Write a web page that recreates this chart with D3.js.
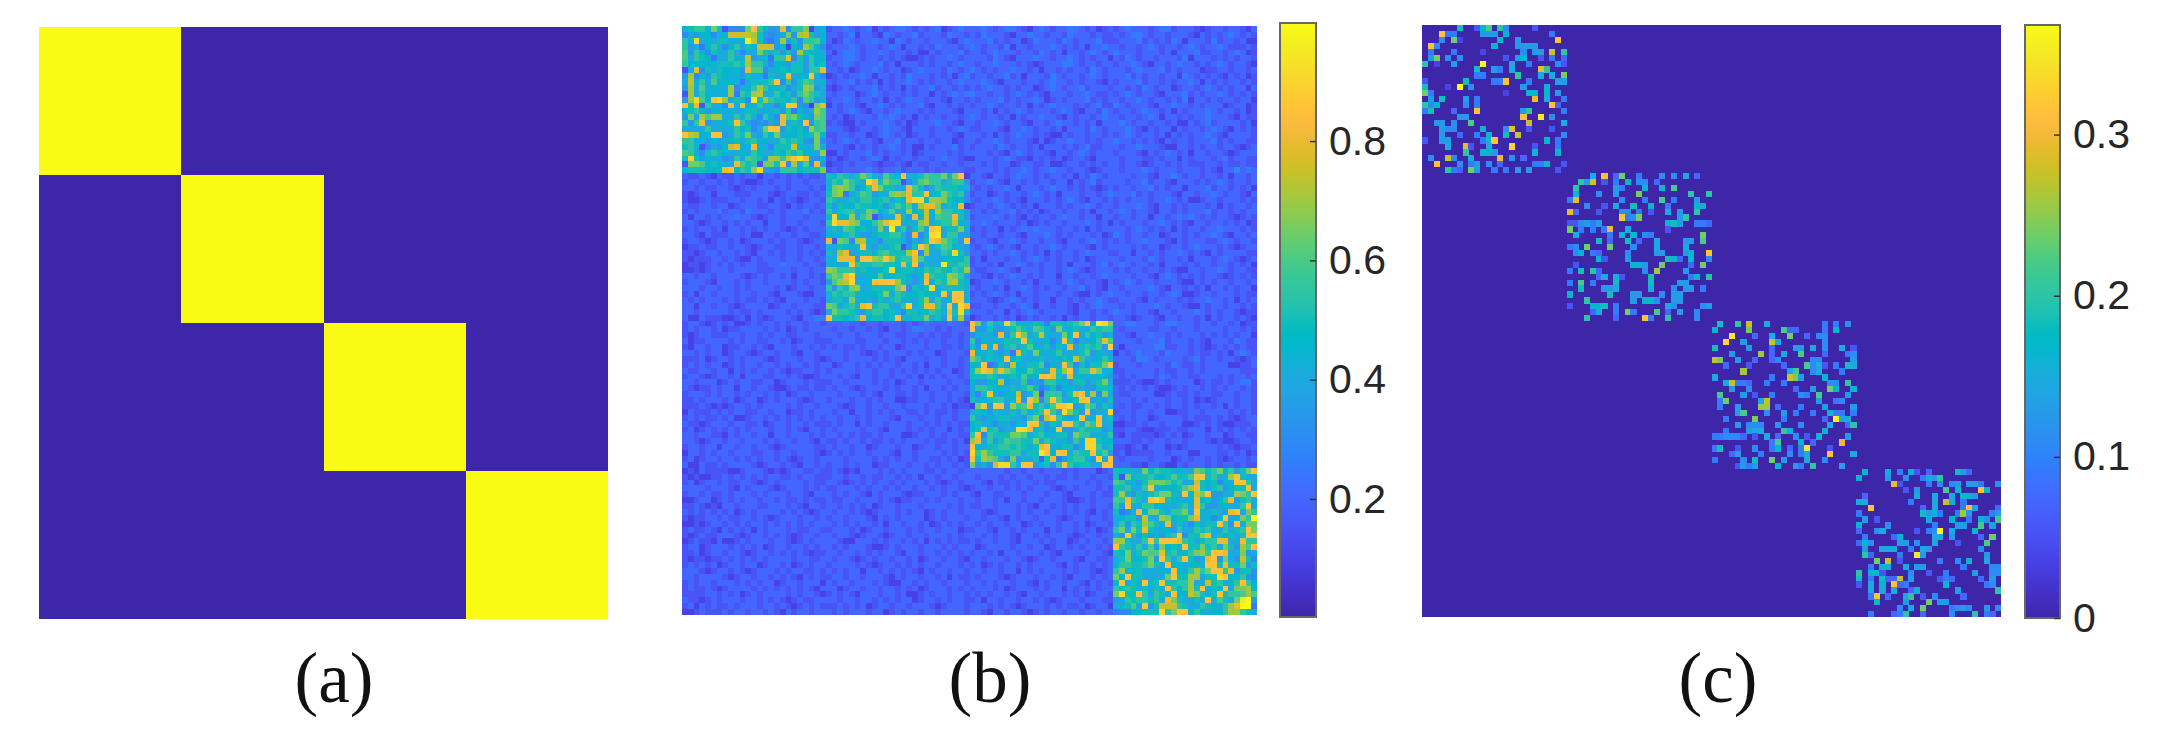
<!DOCTYPE html>
<html><head><meta charset="utf-8">
<script src="https://cdn.jsdelivr.net/npm/d3@7"></script>
<style>html,body{margin:0;padding:0;background:#fff;overflow:hidden}svg{display:block}</style>
</head><body><svg id="chart" width="2163" height="737"></svg>
<script>
const panelLabels = ["(a)","(b)","(c)"];
const matrixA = [[1,0,0,0],[0,1,0,0],[0,0,1,0],[0,0,0,1]];
const ticksB = [0.2,0.4,0.6,0.8];
const ticksC = [0,0.1,0.2,0.3];
const domainB = [0.002,0.998];
const domainC = [0,0.368];
const parula = ["0.2422,0.1504,0.6603","0.2504,0.1650,0.7076","0.2578,0.1818,0.7511","0.2647,0.1978,0.7952","0.2706,0.2147,0.8364","0.2751,0.2342,0.8710","0.2783,0.2559,0.8991","0.2803,0.2782,0.9221","0.2813,0.3006,0.9414","0.2810,0.3228,0.9579","0.2795,0.3447,0.9717","0.2760,0.3667,0.9829","0.2699,0.3892,0.9906","0.2602,0.4123,0.9952","0.2440,0.4358,0.9988","0.2206,0.4603,0.9973","0.1963,0.4847,0.9892","0.1834,0.5074,0.9798","0.1786,0.5289,0.9682","0.1764,0.5499,0.9520","0.1687,0.5703,0.9359","0.1540,0.5902,0.9218","0.1460,0.6091,0.9079","0.1380,0.6276,0.8973","0.1248,0.6459,0.8883","0.1113,0.6635,0.8763","0.0952,0.6798,0.8598","0.0689,0.6948,0.8394","0.0297,0.7082,0.8163","0.0036,0.7203,0.7917","0.0067,0.7312,0.7660","0.0433,0.7411,0.7394","0.0964,0.7500,0.7120","0.1408,0.7584,0.6842","0.1717,0.7670,0.6554","0.1938,0.7758,0.6251","0.2161,0.7843,0.5923","0.2470,0.7918,0.5567","0.2906,0.7973,0.5188","0.3406,0.8008,0.4789","0.3909,0.8029,0.4354","0.4456,0.8024,0.3909","0.5044,0.7993,0.3480","0.5616,0.7942,0.3045","0.6174,0.7876,0.2612","0.6720,0.7793,0.2227","0.7242,0.7698,0.1910","0.7738,0.7598,0.1646","0.8203,0.7498,0.1535","0.8634,0.7406,0.1596","0.9035,0.7330,0.1774","0.9393,0.7288,0.2100","0.9728,0.7298,0.2394","0.9956,0.7434,0.2371","0.9970,0.7659,0.2199","0.9952,0.7893,0.2028","0.9892,0.8136,0.1885","0.9786,0.8386,0.1766","0.9676,0.8639,0.1643","0.9610,0.8890,0.1537","0.9597,0.9135,0.1423","0.9628,0.9373,0.1265","0.9691,0.9606,0.1064","0.9769,0.9839,0.0805"];
// Panel (b): one letter per cell; a..t = 0.05..1.00
const matrixB = [
"ijkkhmjcfffmqkiggpfkkmbgi cddedcdebdcdeedcdcdebcded ddedcdeedcbdedcddeedcdbcd cdedddcdeecdddcbcddcddcbd",
"fhgiifhioooonjgfghmgnojgi ddcdebddcbedcddecdddceddc dcedddcbddeddcddcedddcdcc dcdeedcddcdddcbdcdcdedcdc",
"kirhihjjhiisojfegngjgkkli dbcedcddeddbedcddcdddcbde dddecdcddbcedddcedcdddecc cdddecdcdcedbdddcecddcdbb",
"kgheikhfikhjiooogibignlif cdddedcddcdedbddcdcedddcd edcddcebddcdddedcdcdbdded dcddcdedcddcdedcddedcccdc",
"lgkifjihkhfhhmjhjgjgnjiih dbdeedcddedcddcdbbdcdddec ddcdedddcddcedcdbddcdedcd edddcdddcdbdddeccddcdedbc",
"lhkjiehhkihoghiekkpfjgkii cddeedcddcdcdcbbcdcddedcd dddcedcbdddeddcddedcdcddb dcedcddcdddcebdddcdcdcddc",
"kiiiiijjjkjnkkhfiigjjgkij dcdedcdddecdbdddcdcddcded dcddedddcdcbcdddeedcddcdd cddedcbddcdeddcdcdedcddcb",
"chpfjhjiiigpllfhijijjgkkp ddcdbcddedcddbcdedddcedcd edcdcddeddcdbddcdcddcedcd ddcdedddecdcdddbccddcddcd",
"gnfigkjihigjhhejhiphiiqhf bcdcddedbddcdcedddcdcdbde cddcddecdbdddcedcddcdedcd ddecdcddcddbedcdcdcbdcdbc",
"hoikhlhiihehjjjkqfkgjlkhi dcddecdcdbdcddedcdcddcded ddedcbdddcddcdeddcdcddcbd cdddecddcdcddedbdcdcddcdc",
"gnhlhihhnfhiknkiijfhjnmgh cbcdcdddecdcdbdcddecddcdc dcdeddcdcddbcdedcddecdddc ddcdcedcddbcddcdedcdcddbd",
"cnhkihihnekjnohhkijgkmkjh dcdddbcdedcddcdcddbdcdede eddcddcdedcdcbdddcddedccd cdedcddcbdddecdcddedcdcdc",
"gnrliqrnhjifsjnkjjikflkgi cddedcddcdbdcdeddcddcbddc dcdddecdcddedbcdcdddecdcd dcddedcddcdcebddcdcddcddb",
"qjpckhhfphpihkhhfiqqgfbmp bdcddcbddedcdcddecbddcdcd cddedcddcdbdcdedddcdcdecc edcdddcbddeddcdcdddbcddbc",
"ijkigiihihhjjhihjgkeighnl ddcdedcbddcdedddcdcdddcbd ddcdbdcdedcdddcdedcbddced cddcdeddcdbdcdddedcddcdbc",
"gmhnlnnhhkhkhfkifplmjigml dcdbcdddcededcdbdcddcddcd edcddcdbdcddeddcbdcddcded dcddcdedbddcdcddedddcbdcc",
"kgkpghhijqkhfgfhgphjhqgkl cdcbbdcdddedcdbcdddeddcbd dcddedcddcbddcdeddcdcdbdd dedcddcddcdbbdcdecddddcdb",
"hhhhkhhhhkijfhmqqgjijgnkl dddcbcddcdeddcbdddcddcded ccdddcbddedcddcdbdddcedcd ddedcbdcddbdcddcdedcbdcdc",
"qoniiqqghkjmhgkimhiijijmi ccddcddbcdedcdbcddcdddcbd ddcdbdcdeddcdcbbdcddcddcd cdedcddcdbdcdcddedcbddddc",
"kkhhgihhijhjkiihhkjkjgfmf dcdedcddcbddecddcddcddbcd dcddedcdddcbdbcddeddcdcdd eddcdcdcbdcddcdddecdcddcc",
"jkicfhgiopihpihfjjjoihhmh dddcbdcdcddedcdbbdcdddecd cdddcedcddcdbdddcdcdeccdd dcddedddcbbddcdcddcddcbcd",
"lkhfjkjihhihkihhjikjkiihn bbdcdddecdcddcdbcddddcdcd dddcdcbdedcddcbddcdedcddd cdddcbdcdedcdbddcddcbcddd",
"jrjgihhfgkhlkjgnnkoqrpgfi cdbcddcdedbdcddcddcdeddcb bdddcdedccbdcdcdbcddcbddd dcdddccdcddbdcdddcdecddcc",
"cmmlijiihpljkcmmjqfnhlfpg bccdcdddcbccdcbdccddcddcd ddcdcddbcddccdbbcddcdcdcd dcddcbcddcdcdcccddcdccdcc",
"ijjjiiipqikjnrggfkkkijjjm cdcddddedcddecdddcdcddddc cdddcdcddedcddeddcddcbcdd dcdddedcdddcdddcdcbddfded",
"dccdcbdccdcddbddcdcdcdccd jikjhjmkigljiqhijlkkmhmqb ddcbddcdeddcdcddcdbdcedcd dddcddcbddedcddcddcdbddcd",
"cddcddcdcdcbbcdcddcddcddd hkjmkjhrpjmkkcfhlmkkhjkkg cddedcbddcdcddcddbdcdecdd ddcddecddcbdddcdcdedcddcd",
"ddcdccddcbcdcdddcdcdddcdc imnmkgikpmjjhhpljfhkjjjih dcdcddedbdddcdeddcdcdcbcd cddcddecdcddbdddecddcdcdb",
"cbcddbdddcccdddcbcddccdcd jmnehjlkgihmnmpkkqiimkjkf cddbcdcddcdedcdbdddcddcde dddecdcdddcbddcddedcddcbd",
"cbbcdcccddcddcdbdcdcbcddc kjhhjhkkijkhjhprrinnmjiif dcddedcdcbdddcdcdedcbddcd cdcdddcddedcdbbcddcdddcdc",
"dccddcddbcdddccddcbdcddcd jgjiikjjijgjljlhnppmhjip bcddcdedcdcdbdddcdcddedcd dcdddedcbddcdcdddcdbdcddc",
"cdcdddecddcedddcdcdddecdc khjkkhjmlijlhhnijoinkkjjg ddcdcddecdcdbcddcddcdbddc dedcddcbddcdcdddecddcdcdd",
"dbddcdcddeddcbcddcdddcddd iriinhkmcfhhpjgpiohlkkpjg cdddedcdcbdcddcdeddcddbdd cddcddbddcdededcdcddcbcdc",
"ddcbcddcdcdcddbddcddcdddc krppnmhikmprrhihmohjkkoih ddedcdddcdbcdcddcdddedcdb dcdddcddedcdcbddcddcdcdbc",
"cdcddcdbddcdcdcddcbcdcddd hjhlkijihmhshkgilhqrhjjmh cdcddbdcdededddcddcdbdcdd ddcdedcdcdbdcddcddedddcdc",
"ddcbdcccddcdbbddcddcddccd ihijkiggijjkkhfpfhrshkkgg ddcddcddcbdddedcdcdddcdbc edcddcddbcddcdcddedcbddcd",
"cddcbcddcdbcdddcdcddcbcdd pcmlfnoihfjjjhfhgjqpmkjgq cddcbddedcddcddcbddcdedcd cdcddedddcbdcdddccdedcddc",
"bccdccddcddcbcddccddcddcd hhjiiiqhgjhjkcfjqnhjlkihg dcdedcdcbddcddedcdddcbdcd dddcdcddbcddcdedddcdcbcdd",
"ccbcddcddcdcbddcdcddcdcdc jhnpghjjikljjjnqfnhhkjrjg ddcdcddedcdcdbdcddcdedddc cddbddcdcddedcdcbdcddddcc",
"cbcccddcdcbbdcdddcddcddcd hhpppgqqnmqnjkkplhhhiiiik cdbdddcddcdedcdcddcdbcddd dcdddcedcddcdbdddcdedcbcd",
"bccbcdcdcdcddccddedddcddc iiihqkjjkkjjipjqgjhhsjjkk cddcdbddedcdcddcdbdddcdec dedcddcdbdddcdcddcddcdcdb",
"bbcbcdddcddddcccdddcddcdd nmkkkhjihijrijjiikjkjikjn dccddedcbdddcddcdedcbcddd cdcddcddcdcbbddcddedcddcc",
"ddcddcddddcbcdcddcdbddcdc kmlprhhiiliijjigipkjjnmkg ddcbdcdeddcdcddbddcddcded dddcddcbdedcdcdcddcbcdcdc",
"cdddcbdddcdcddcddddcdcddc glnorhhiqqqqnjhghqhkjnoji bcddedcddcdbdddcdedcddcbd cdedcddcdddcbbdcdcddcddcd",
"dddcddcddcdcddddcdbcddcdd kgkjmnhhjjjjmpfjijrhjjjjh dcddcdbddedcdcddcddecdcbd dcddddedcbddcdcdbddcdcddb",
"cdbddcdddcddcddcbdddcbbdd hkjkkhiiijmhkjiijiihqhqqh cdcdedcdbddcdddcddcbbdcde ddcddcddcdedbbcddcdddcdcc",
"dcdcdddcdcdccdcdcbdddcddc hjjhmhihgjhjkhihjnhkhiqqh dddcbcdedcdcddbddcdcddedc cdddcbdcdddcdcddeddcdbdcd",
"ddbddcddcbcddddbcddcdddcc mlhjkhpqjkkhhkrhjppkhqhrp ccddcddcdedbddcddcbdcdedd dcdcdddedcddcbbdcddcddcdc",
"ddcdddddcdccdcddddcdcdcbc hmkkjhgjkkijhfjjiikjhpjrh dddcddbdcdedcddddcbddcdcd eddcddcbddcdddedcdcddcbcc",
"dbbdcccbbcdbdcbcdddcbddee qjjijkpijjijqiijjmhjgqhne bcddcdcdbcdcddcdbdcddcddc ddcbcddcbddcddcdbdcddcdcb",
"cddcbcdcdbbcdcddcdcddcddc dddeddcddcdddcdcdedddeddc qmgkihrliiijiejjijkmqgsrm ddeedddcdeedddcddcddcdbcc",
"cdcddcdbccddddcdcdbcdcddd dcddcddcdcbddcdeeddcdcddd qggjgghjljhlkigmhijhhkjkk dcddddccddcdddcddddcddcdc",
"cbcddcccddcddcdcddccdddcd ddcddcdddcddccddcdcdccdcd fihhgpgkqmhjoihhmiqhkijgh ddcbddeddcdcdddcdcdcdcddb",
"dbccddddcdcddccddcdbcddcc cddddccdddcddcdcdcddcddcd kfihihjjjqjhhifhqjfhhikpl ddddcdddecdddcdcbdddcedcc",
"cbddcddbccddcdcbdddcddcdc dcdccdcddcddbcdddcddccdcd jgphpgjkhjlihjgjhphjkjkgr dbdddddeeccddcdcbcdcdcdcc",
"ddcdcddbcddcbcddcddcbddcd dddcddcbcdcdddcdcddbcdddc pihjhghepjhmihikhhhjlgihg bdcdedddcedddcdccdcdbdedc",
"cccdbcddcdcdddcbcdddcddcb cddcddddcdcdcbdddcddcddcd mkijhiqijhhijhhijiokhhiki dddceedcddddcdecddcddcbcd",
"cdcdcddbcdcddcddcdcddcdcd dbcddcdcdcddcddcdbddcddcd iiqefjgoihjjlfihqkfjgjjmq cdddcddddcedccdcddddbbccd",
"dccddcddbdcdcddcdcbccddcd cddddcddcddcdcdcdcdcddbcd jnqplpmkiiljihpjnqhkkpmhi ccdddddcdccddcdcddddddccc",
"cddcbcddcdbdddccddcdcbbcd ddcdcbddcddcddcdbdcdcddcd jjjkjhijiliiqqpjhpiihiiig dcdcdddcedcddccdddcdcddcd",
"ddcdddbcdcddccddbcdddcdcc cddcddddcdcdbcddcddddcddc iggihoghhkfgfkkiigjjghjmh cccdcbbcdcddddbcdccdcdeec",
"dcbccdcddbddcddcbbcdccdcc dcddcbcdddcdcddcdbddcdcdd hkkjiihjhjliegjfiihhggjji dcdcdcdcbbcdcddcdcdcddcdc",
"cdddcdcddcdcddcdcdbcddcdd ddcdddcdcbddccdcddcddcddc hfjqigiioghmckkkgjpqhnfmh dccddddbbcdccdcddccddcddc",
"ccdcdddcdbcddbcdcdddcbcdd cdddcddcdcddbbccddcddcdcb jhijkkhipgqnfkqlhijqqgigj dddcdcdddcddcdbcbcdddcddc",
"cccdcbcbcddcdcddddcdcddcd ddcbcddcddcddcdddcddcdbcc bmqgqqgnklpjkilqqrghmkgjh dcdccddcdcddcdcddcdbdcddc",
"bdcccdcdcddccddcddbccdcdd dcddbddcdcdcddccdcdccdcdd hjigjhhjhkhjkqkhrmjgqghhr cddcddcddbbccddcddddcdcdc",
"cdcdccdcdbbcddcdcdcdcdcdc ddcddcdcdddcbdddcddcddcdd khgihjjhhgkmfoqkigiqhiqhj dcdcddbcddddcdcccdcdcbcdd",
"dccbcdddcddccdbcddcddcdcc cdcddbdcddcdddcddcdcdcdcc ijhhfhhgihqqjgjhqqkhmkqhh bbccdcddcdddbbcdcdcbbcccd",
"cdbcdcdcdcdcdddcddcdcbddc dcddddcddcbdddcdcdcddbdcd ijpjkghhrrpijgiqgghkjjjgh ccddcbbcccdccdddbdcdcdcdc",
"ddcddccbdcddcddbddcdddcdc ddcdcdccdcdddbbcddcdcddcc kqfkjjjmmlhjkihjjgmkkhhhk cbdccccbcdcdbcddcddbcddcc",
"ddcbcddcddcdddcdcddcddcbd ccdcddcdccdcdcdddcdccdcdb nphkgjlkkjjmhkjhigkhrrjii dddccdcddcddcdddcbcbbcddc",
"cddcddbddcddcddcbcdddddcc dcddcddbcdddcddbcddcddcdd qihjjkkjkjhjpqhijjfhrrkhj ccbcdbdddbcbcdddddcdcbccd",
"bddcdcddcdddccddcddcdddcb cdcdcddcdddcbddcddddcdcdc rknkjjjkkhjjsqiqqhkjjqjlg cdbccccddcdddbbdddccdcdbc",
"cdbcddcddcdcdcddcdcbcddcd dddcddddcdcdcddcddccdcdbc qjnmlhfmghhjdjpegjkkigrhq dcddddcdddbcdcddcdcbcddcd",
"dbbdccdcddddcbcddcdcbddcd cddcdcddbccdddcddcdcddcdc mgiforrkhqqgijfkqkijjhhqq dddccbddcbbdcdddcdcddcdcc",
"bcbdccccbbcdddcbcbcddccdc cdcbcbdddcdcdcdddccdcddcd ddddddcddcddcdddcdcdddbcd jiihhmikjjhihhmljkmikgjmq",
"cbcbbccdcdcdcdcddccdcddcc cddcddcdccddcdcdbddcddcdd dcdddcdcddcddcdccdcddcddc jcmijjkiijljjlqqjkhhnqjhh",
"cdbcddcdccddcbcdcddddcdcc ddcbcdcdcddcdcdddcdcbcdcd ddcbdccdcddcdccdddddcdcdd lkhigjmmmljkhhojijfihqqkh",
"ddddcdddcbdcdddcbcdddcdcd ccdddcdcddcdcddcddcdcddcb cddcddcdcdcdddcbcdcdddcdc jjkhhkqhiiijlnpjhjkgijjqh",
"cddcdccdcdddcdcdddcddcbdd dcdcddcbdcdddcbccdddcdcdd cbddccdddcdddcddcbdddcdcc jnhgjhjkmmjhqiomqgghhnmkq",
"bbcddbcdcdcddcddcdccdcdcc dccddcdddcdcbccddcdcdddcd dcddcdbddcddcdddcbbcdcddd lkpkjhqrpjihhipijgikpgjkh",
"ccdcbcbddcdddccdddcdcbddc ddcdcdcdbcddcdddcddddcdcd ccddcdddcdcbddcdcdcddcddc kgqhhkkiihhjkhpkggiihhkqh",
"dcdcdcdcdbcdcddddcdcdcbcd dcddcdcbcdddcdcddbcdcddcd ddcbcdddcdcddcddcdcdcbdcd jefhpimmjhkkmhqihjhgpqhmk",
"cbccddcdccddcdcbcdddcddcd cddcdddcbdcdcddddbcdcdddc ddcddcbdcddcdddcbcddcddcd hijjgohhnmijjmphifiqhhmkt",
"bbcbcddcdcdcddcdcdcdcdcdd dcdcdcddcdbddcddcdbcdcdcd dcdcddcddbcdcddcddcdbcddc hkgkjnljhphjhfjhjjqkgqhmm",
"cdccdcbdcdcdbdcdddcdccddc cdddcdbcddcdddcdcddcdddbc cddcbddcdcdddbdcddcdcdbcd kmhmjpjhiigkhhkjkhhkhjkqm",
"cbcdccdddcbcddcdcdcbcddcd dcddcbcddcbcddcddcdddcdcd ddcdcddcbddcdcdddcbcddcdd hgqjgjgigjkqfjjnphjijhjqq",
"bcdccbdbbcdcdddcddcbcdcdd ddcbbdddcdcddcdcdbdcdcdc cdcddcddcbdddcdcddbcdcddcd nnjhhkqkqqqpkjhjkkpphhpkk",
"cddbcdddcdcdcdbcddcddcdcd dcdcdddcbbcdcdddcdddcdcdd dbcddddcddcddbcddcdcddcdc qkjhkhlgmijiqjjmjkhmjgnlq",
"ccdbcddcddcbcddcdcdcdcbcc ddcddcdcdcddcbddcddcdcdcd cddcdbddcdddcdcbddddcddcb jimhjmllpjkhikmnkqqphhmgh",
"cbccbccdcdcdcdcddddcddccd dcddcbcdcddcddcdbcddcddcb ddcdddcddcbcddcdddcbddccd hjmiijmgqkhkqjghpqgmhgojf",
"cdcdcdbcddcddbcddcdbcdcdd cddddcdcbcddcdcdcddcdddcd cdbcdcddcdcddddcbdcddcdcd ikkjjkmjhqiihiihqqjpjjmgj",
"dddcbcddcdcbcdddcdcddccdc dcdcddbddcdcdcdcbdcddcddc ddcddcddbdcdcdddcdcddcbcd kniijhhhihqiiknkmqqkpgjjg",
"ddcddddcbcddcddcdcdcbdcdc cddcddcdddcbdcddcddcdbdcc dcdddcbcdddcddcdcbdddcdcd miqjjhhhhmqjjnnhjjrqiikgf",
"cdcddcdddcdcdcddbcddcdddb dcddcdddcdcbbddcdcddcdddc ddcdcddcddcbdcddcddcbdcdc iqhjiqijqjjkknhhojkhikqki",
"cdccdcbcddddcdcdcdcdcdcbd ddbcddcddcddcdcdbcdddcdcd cdddcdbcdddcdcddbdcdcdcdd kjkjhjhjhqkiknjqhjiqhmmni",
"ccccddcdcdbcdcddddcdcddcb cdcdcbdddcddcdbbcdcddcddc dcdcddcdcbddcdddcdcdbcddc mrjjqkhkjhqiiomjhjqjkklnl",
"dccbcdcdddcddcdcdcbcdccdd ddcddcddcdcdcddbcddcdcddc cdbddcddcddcdcbcdddcdddcc ghkjkkjkhpmjhhjhqhljhmstg",
"cdbdcdccdcdddcddcdcbcdcdc ccdcdcdbcddcddcdddcbcdddc dddcdcdcbcdddcdcdccdbcddb hijlhqgjoookjhhkjihknptte",
"bbcdcccdcddcddcdcbdcddcdd dcdcdddcddbcdcddcddcddddc ddcbddcddcbcdcddcddcddcdd effiijjjrkmqqikihiiknnkjh"
];
// Panel (c): each row of a block lists "<column><level>", level a..t = 1/20..20/20 of the colour range
const cBlock1 = ["6j 9c 10i 11l 13k 14f 19c","3q 4e 5e 10g 11g 12g 14i 22e","3f 5m 6b 13i 16g 23q","1q 2f 12i 16g 17g 18g 19g","1e 5e 10b 17f 19g 20g 22o 24k","1g 2m 4f 6f 14c 16g 17i 20c 22e 24d","0k 2b 5g 10t 15h 18e 23f 24c","9j 12g 13e 15h 20p 21k","9e 10e 16k 20h 22h 24m","0c 7j 12e 13e 14q 18e 23g 24g","0j 4b 6t 8f 17g 21i","0m 1e 14b 18i 19i 21i 23g","1g 3j 7g 9e 19p 21h 24e","0k 1f 2i 7f 9e 22q 23d","0e 1j 5d 9q 17g 18k 24e","6g 7g 17q 20s 22f","2g 3g 5f 8l 18o 24h","3g 4f 5f 10h 14f 15p 18c 22c","3g 6d 9e 11i 14j 16o 24f","0c 3g 4g 10e 11i 12q 21i 23e","4h 7p 8c 11h 15r 19c 23e","7k 10i 11i 12g 19i 23i","1f 4o 5f 8h 13p 15f 17d","2q 6f 8e 9g 11f 13d 19e 20e 21i 24c","4k 5e 6d 8m 9g 12e 14e 16g 18g 23c"];
const cBlock2 = ["4h 6q 8d 9m 12e 16f 18f 20h 22d","2k 3g 4o 6c 8e 10i 12f 13f 15d","1k 8g 9e 13i 16i 18l","1i 5f 8g 12m 21k 24k","0e 1p 9f 13e 16l 18e 22g","3f 6c 8h 11j 14i 17e 22i 23i","0p 1d 5c 9f 10f 12e 14c 17h 19g 22k","9q 10e 11f 12m 19g 20k","0c 1c 2f 3g 4e 5g 17i 18j 19g 22e 23e 24d","0m 2e 4e 6e 7p 10h 17c","1h 7e 9i 11i 13f 14e 23m","5j 7d 10j 12d 15h 20g 21g 23l","0e 1f 3m 7m 11f 15h 20h","1f 2i 4e 5d 10f 15g 16g 20g 21i 24q","5i 6c 10g 17j 18i 19d 21i 24f","1c 11i 12i 13g 16m 21d 23m","0e 2j 4k 5d 13f 15n 20g","5d 6h 8h 9c 14j 21e 22i 24k","0e 2l 4e 8j 14j 19g 20g","2j 6g 7g 8h 14h 18f 20g 21g 23e","0i 7j 11g 12g 16f 18g 19g","3k 11g 13i 14i 15f 18g 19g","0c 4i 5i 6j 8e 17h 18f 23f 24g","4d 5h 8e 10m 11e 15l 17d 19g 22f","3k 8d 13q 14e 17k 22f"];
const cBlock3 = ["1j 4k 6o 9h 19e 21e 23f","0i 6m 12l 13d 14d 19e 21i","3s 7d 10h 13m 16d 18f 19f","2r 5g 10o 11h 19f","0j 6g 10d 14g 15g 17h 19f 22h 24c","3g 8n 10d 12h 15l 19d 23e 24f","0o 1m 4g 7d 10d 11f 17f 18f 24g","2d 6c 12d 16l 17f 18h 19c 21e 23j 24h","5n 13h 14l 17f 18h 22e","0h 10e 13o 14m 15g 19i","2h 3o 4e 5e 6d 9e 12e 20f 21f 23k","3g 6f 14d 17g 20m 21i 24i","1l 5g 7c 10e 15f 16e 18l 23g","1e 2m 8h 9o 18g 21e 22f","1e 4g 8n 9n 11d 15e 19g 24g","4g 5l 9f 12g 14e 17e 20i 21e 22e 24e","2e 7m 12e 19d 21t 22h 23h","4g 6f 7f 8f 11g 15f 20h 23d 24k","2e 6g 7h 8h 12k 13h 19i","0e 1e 2f 3f 4f 5d 7c 9h 11d 14f 16c 18i 23g","10e 11l 15i 17d 22p","0e 1j 4c 7f 10e 11i 13d 15e 16s 20c","3d 4g 8e 13f 15e 16h 20q 24h","0e 5f 7j 10m 12g 16h 19f","4c 5g 6e 7g 11i 14g 15e 17k 22g"];
const cBlock4 = ["1i 5h 7e 9i 10c 12d 17j 18g 19d","0i 5g 8f 11e 12h 13g 14k","6p 7c 12e 14f 16f 17g 19g 20g 21e 24f","8c 10g 15l 17i 21q 22i","1d 10h 13h 16h 18i 19i 20g","0h 1h 9e 13h 15o 16h 18e","2q 11d 13h 18e 19q 20h 24d","0e 11j 12g 13h 14e 17e 18n 19g 23e 24g","1g 3c 12h 16i 19e 21i 22f 24l","0i 5f 13e 17g 18g 21l 23g","0d 3f 4h 10c 12e 13f 14t 16h 20i","1e 6d 7i 13h 14h 16g 21d 23m","0d 1i 2f 7g 8g 10f 13h 17c 22l","1g 4h 5h 6h 9e 11h 12g 21f","1k 2d 7e 10s 11g 22g","3m 5o 7c 14e 17f 19i 22h","2e 4i 5h 8h 10g 11g 18e 23f 24f","0k 2i 3i 4c 9f 12c 15e 20g 23f 24f","0j 2e 4j 5d 6d 7o 9g 14c 15e 16d 21d 23g","0c 2h 4i 6q 7d 8e 15i 22e 23f","2h 4h 6h 9d 10i 17g 24k","2e 3q 5d 8h 9k 11c 13f 18d","3i 8g 12m 14g 15g","7f 9h 11m 16e 17f 18g 19f 22g 24f","2e 6d 7e 8k 11d 16f 20k 22e 23d"];

const levelValue = (ch, max) => (ch.charCodeAt(0) - 96) / 20 * max;
const svg = d3.select("#chart");
const parulaColors = parula.map(s => { const [r,g,b] = s.split(",").map(Number); return d3.rgb(r*255,g*255,b*255).formatHex(); });
const colorFor = dom => d3.scaleLinear().domain(parulaColors.map((_,i)=>dom[0]+(dom[1]-dom[0])*i/(parulaColors.length-1))).range(parulaColors).clamp(true);
const defs = svg.append("defs");
const grad = defs.append("linearGradient").attr("id","parulaGrad").attr("x1",0).attr("x2",0).attr("y1",1).attr("y2",0);
grad.selectAll("stop").data(parulaColors).join("stop").attr("offset",(_,i)=>i/(parulaColors.length-1)).attr("stop-color",d=>d);

function panelFrame(box, bg){
  const g = svg.append("g").style("filter","blur(0.6px)");
  g.append("rect").attr("x",box.x0).attr("y",box.y0).attr("width",box.x1-box.x0).attr("height",box.y1-box.y0).attr("fill",bg);
  return g;
}
// (a)
const boxA = {x0:39,x1:608,y0:27,y1:619};
const colorA = colorFor([0,1]);
const ax = d3.scaleBand().domain(d3.range(4)).range([boxA.x0,boxA.x1]);
const ay = d3.scaleBand().domain(d3.range(4)).range([boxA.y0,boxA.y1]);
const gA = panelFrame(boxA,colorA(0));
gA.selectAll("rect.c").data(matrixA.flatMap((r,i)=>r.map((v,j)=>({i,j,v})))).join("rect").attr("class","c")
  .attr("x",d=>ax(d.j)).attr("y",d=>ay(d.i)).attr("width",ax.bandwidth()).attr("height",ay.bandwidth()).attr("fill",d=>colorA(d.v)).attr("shape-rendering","crispEdges");

// (b)
const boxB = {x0:682,x1:1257,y0:26,y1:615};
const colorB = colorFor(domainB);
const bx = d3.scaleBand().domain(d3.range(100)).range([boxB.x0,boxB.x1]);
const by = d3.scaleBand().domain(d3.range(100)).range([boxB.y0,boxB.y1]);
const cellsB = matrixB.flatMap((row,i)=>Array.from(row.replace(/ /g,"")).slice(0,100).map((ch,j)=>({i,j,v:levelValue(ch,1)})));
const gB = panelFrame(boxB,colorB(0.2));
gB.selectAll("rect.c").data(cellsB).join("rect").attr("class","c")
  .attr("x",d=>bx(d.j)).attr("y",d=>by(d.i)).attr("width",bx.bandwidth()+.3).attr("height",by.bandwidth()+.3).attr("fill",d=>colorB(d.v)).attr("shape-rendering","crispEdges");

// (c)
const boxC = {x0:1422,x1:2001,y0:25,y1:617};
const colorC = colorFor(domainC);
const cx = d3.scaleBand().domain(d3.range(100)).range([boxC.x0,boxC.x1]);
const cy = d3.scaleBand().domain(d3.range(100)).range([boxC.y0,boxC.y1]);
const cellsC = [];
[cBlock1,cBlock2,cBlock3,cBlock4].forEach((block,b)=>block.forEach((row,k)=>{
  for(const m of row.matchAll(/(\d+)([a-t])/g)) cellsC.push({i:b*25+k,j:b*25+ +m[1],v:levelValue(m[2],domainC[1])});
}));
const gC = panelFrame(boxC,colorC(0));
gC.selectAll("rect.c").data(cellsC).join("rect").attr("class","c")
  .attr("x",d=>cx(d.j)).attr("y",d=>cy(d.i)).attr("width",cx.bandwidth()+.3).attr("height",cy.bandwidth()+.3).attr("fill",d=>colorC(d.v)).attr("shape-rendering","crispEdges");

// colour bars
function colorbar(box, dom, ticks, fmt){
  const y = d3.scaleLinear().domain(dom).range([box.y1,box.y0]);
  const g = svg.append("g");
  g.append("rect").attr("x",box.x0).attr("y",box.y0).attr("width",box.x1-box.x0).attr("height",box.y1-box.y0)
    .attr("fill","url(#parulaGrad)").attr("stroke","#666").attr("stroke-width",2);
  const axis = d3.axisRight(y).tickValues(ticks).tickFormat(fmt).tickSizeInner(-6).tickSizeOuter(0).tickPadding(13);
  const ga = g.append("g").attr("transform",`translate(${box.x1},0)`).call(axis);
  ga.select(".domain").remove();
  ga.selectAll("line").attr("stroke","#333").attr("stroke-width",1.5);
  ga.selectAll("text").attr("font-family","'Liberation Sans',Arial,sans-serif").attr("font-size",41).attr("fill","#262626");
}
colorbar({x0:1280,x1:1316,y0:23,y1:617},domainB,ticksB,d3.format(".1f"));
colorbar({x0:2025,x1:2060,y0:25,y1:618},domainC,ticksC,d=>d===0?"0":d3.format(".1f")(d));

// captions
const captionX = d3.scaleOrdinal().domain(panelLabels).range([334,990,1718]);
svg.selectAll("text.cap").data(panelLabels).join("text").attr("class","cap")
  .attr("x",d=>captionX(d)).attr("y",702).attr("text-anchor","middle")
  .attr("font-family","'Liberation Serif','Times New Roman',serif").attr("font-size",71).attr("fill","#111").text(d=>d);
</script></body></html>
